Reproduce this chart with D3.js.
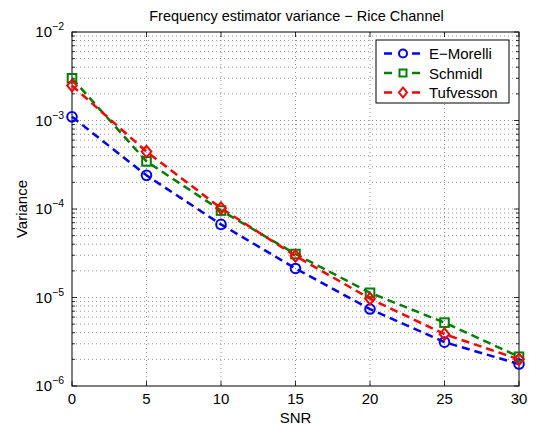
<!DOCTYPE html>
<html>
<head>
<meta charset="utf-8">
<script src="https://cdn.jsdelivr.net/npm/d3@7/dist/d3.min.js"></script>
<style>
  body { margin: 0; background: #fff; }
  text { font-family: "Liberation Sans", Arial, sans-serif; }
</style>
</head>
<body>
<svg id="chart"></svg>
<script>
// data
const snr = [0, 5, 10, 15, 20, 25, 30];
const eMorelli = [1.1e-3, 2.4e-4, 6.7e-5, 2.13e-5, 7.4e-6, 3.13e-6, 1.77e-6];
const schmidl = [3.0e-3, 3.45e-4, 9.6e-5, 3.1e-5, 1.13e-5, 5.2e-6, 2.14e-6];
const tufvesson = [2.48e-3, 4.45e-4, 1.02e-4, 2.95e-5, 9.7e-6, 3.85e-6, 2.0e-6];
const seriesNames = ["E\u2212Morelli", "Schmidl", "Tufvesson"];
const xTicks = [0, 5, 10, 15, 20, 25, 30];
const yTicks = [-6, -5, -4, -3, -2];

const series = [
  {name: seriesNames[0], values: eMorelli, color: "#0000ff", marker: "circle"},
  {name: seriesNames[1], values: schmidl, color: "#008000", marker: "square"},
  {name: seriesNames[2], values: tufvesson, color: "#ff0000", marker: "diamond"}
];

let W = 536, H = 427;
let margin = {top: 32, right: 17, bottom: 41, left: 72};
let width = W - margin.left - margin.right;
let height = H - margin.top - margin.bottom;

let svg = d3.select("#chart").attr("width", W).attr("height", H);
let g = svg.append("g").attr("transform", "translate(" + margin.left + "," + margin.top + ")");

let x = d3.scaleLinear().domain([0, 30]).range([0, width]);
let y = d3.scaleLog().domain([1e-6, 1e-2]).range([height, 0]);

// minor log values
let minors = [];
for (let e = -6; e < -2; e++) {
  for (let m = 2; m <= 9; m++) minors.push(m * Math.pow(10, e));
}

// grid
let grid = g.append("g").attr("stroke", "#000").attr("stroke-width", 0.7)
  .attr("stroke-dasharray", "1,3").attr("opacity", 0.6);
xTicks.slice(1, -1).forEach(function(t) {
  grid.append("line").attr("x1", x(t)).attr("x2", x(t)).attr("y1", 0).attr("y2", height);
});
minors.concat(yTicks.slice(1, -1).map(e => Math.pow(10, e))).forEach(function(v) {
  grid.append("line").attr("x1", 0).attr("x2", width).attr("y1", y(v)).attr("y2", y(v));
});

// ticks inside box on all sides
let ticks = g.append("g").attr("stroke", "#000").attr("stroke-width", 0.8);
xTicks.forEach(function(t) {
  ticks.append("line").attr("x1", x(t)).attr("x2", x(t)).attr("y1", height).attr("y2", height - 5);
  ticks.append("line").attr("x1", x(t)).attr("x2", x(t)).attr("y1", 0).attr("y2", 5);
});
yTicks.forEach(function(e) {
  let v = Math.pow(10, e);
  ticks.append("line").attr("x1", 0).attr("x2", 5).attr("y1", y(v)).attr("y2", y(v));
  ticks.append("line").attr("x1", width).attr("x2", width - 5).attr("y1", y(v)).attr("y2", y(v));
});
minors.forEach(function(v) {
  ticks.append("line").attr("x1", 0).attr("x2", 3).attr("y1", y(v)).attr("y2", y(v));
  ticks.append("line").attr("x1", width).attr("x2", width - 3).attr("y1", y(v)).attr("y2", y(v));
});

// box
g.append("rect").attr("width", width).attr("height", height)
  .attr("fill", "none").attr("stroke", "#000").attr("stroke-width", 1);

// x tick labels
g.selectAll(".xl").data(xTicks).enter().append("text")
  .attr("x", d => x(d)).attr("y", height + 18)
  .attr("text-anchor", "middle").attr("font-size", 15).text(d => d);

// y tick labels 10^e
let yl = g.selectAll(".yl").data(yTicks).enter().append("text")
  .attr("x", -8).attr("y", d => y(Math.pow(10, d)) + 5)
  .attr("text-anchor", "end").attr("font-size", 15);
yl.append("tspan").text("10");
yl.append("tspan").attr("dy", -7).attr("font-size", 10.5).text(d => "\u2212" + Math.abs(d));

// axis labels and title
svg.append("text").attr("x", margin.left + width / 2).attr("y", 423)
  .attr("text-anchor", "middle").attr("font-size", 15).text("SNR");
svg.append("text").attr("transform", "translate(27," + (margin.top + height / 2) + ") rotate(-90)")
  .attr("text-anchor", "middle").attr("font-size", 15).text("Variance");
svg.append("text").attr("x", margin.left + width / 2 + 1).attr("y", 21)
  .attr("text-anchor", "middle").attr("font-size", 14.5).text("Frequency estimator variance \u2212 Rice Channel");

function drawMarker(sel, type, color, r) {
  if (type === "circle") {
    sel.append("circle").attr("r", r).attr("fill", "none").attr("stroke", color).attr("stroke-width", 2);
  } else if (type === "square") {
    sel.append("rect").attr("x", -r + 0.5).attr("y", -r + 0.5).attr("width", 2 * r - 1).attr("height", 2 * r - 1)
      .attr("fill", "none").attr("stroke", color).attr("stroke-width", 2);
  } else {
    sel.append("path").attr("d", "M0," + (-r - 1) + "L" + r + ",0L0," + (r + 1) + "L" + (-r) + ",0Z")
      .attr("fill", "none").attr("stroke", color).attr("stroke-width", 2);
  }
}

let line = d3.line().x((d, i) => x(snr[i])).y(d => y(d));
series.forEach(function(s) {
  g.append("path").datum(s.values).attr("d", line).attr("fill", "none")
    .attr("stroke", s.color).attr("stroke-width", 2.5).attr("stroke-dasharray", "8,5");
  s.values.forEach(function(v, i) {
    let m = g.append("g").attr("transform", "translate(" + x(snr[i]) + "," + y(v) + ")");
    drawMarker(m, s.marker, s.color, 4.8);
  });
});

// legend
let lg = svg.append("g").attr("transform", "translate(376,40)");
lg.append("rect").attr("width", 133).attr("height", 63).attr("fill", "#fff")
  .attr("stroke", "#000").attr("stroke-width", 1);
series.forEach(function(s, i) {
  let row = lg.append("g").attr("transform", "translate(0," + (13.5 + i * 19.5) + ")");
  row.append("line").attr("x1", 8).attr("x2", 44).attr("y1", 0).attr("y2", 0)
    .attr("stroke", s.color).attr("stroke-width", 2.5).attr("stroke-dasharray", "8,20");
  let m = row.append("g").attr("transform", "translate(27,0)");
  drawMarker(m, s.marker, s.color, 4);
  row.append("text").attr("x", 53).attr("y", 5.5).attr("font-size", 15).text(s.name);
});
</script>
</body>
</html>
